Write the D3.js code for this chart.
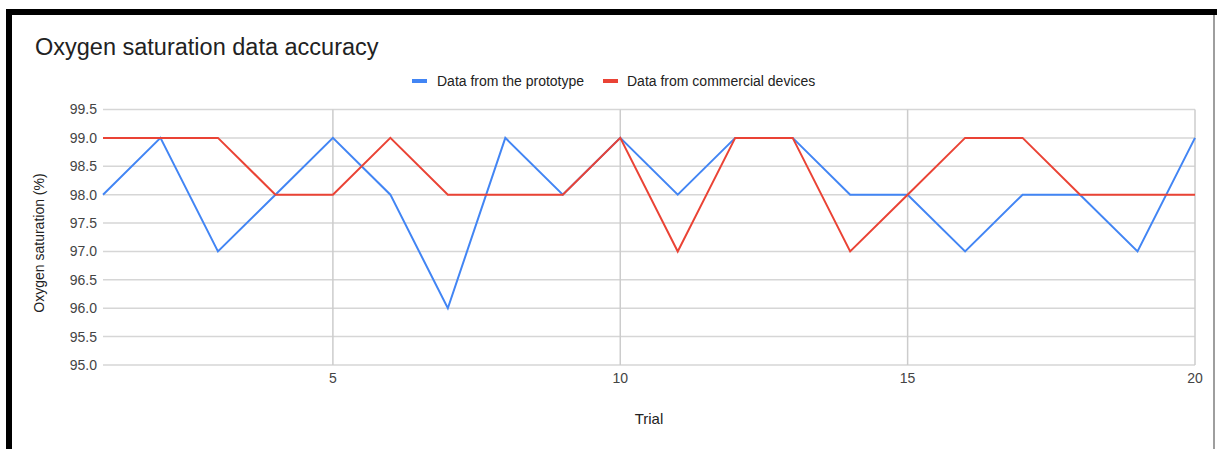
<!DOCTYPE html>
<html><head><meta charset="utf-8">
<script src="https://cdn.jsdelivr.net/npm/d3@7"></script>
<style>body{margin:0;background:#fff;}svg{display:block;font-family:"Liberation Sans",Arial,sans-serif;}</style>
</head><body>
<svg id="c" width="1217" height="449"></svg>
<script>
const trials = d3.range(1, 21);
const prototype = [98,99,97,98,99,98,96,99,98,99,98,99,99,98,98,97,98,98,97,99];
const commercial = [99,99,99,98,98,99,98,98,98,99,97,99,99,97,98,99,99,98,98,98];
const yTicks = [95.0,95.5,96.0,96.5,97.0,97.5,98.0,98.5,99.0,99.5];
const xTicks = [5,10,15,20];
const seriesNames = ["Data from the prototype","Data from commercial devices"];
const colors = ["#4285F4","#EA4335"];

const svg = d3.select("#c");
// frame
svg.append("rect").attr("x",6).attr("y",9).attr("width",1211).attr("height",6).attr("fill","#000");
svg.append("rect").attr("x",6).attr("y",9).attr("width",6).attr("height",440).attr("fill","#000");
svg.append("rect").attr("x",1213).attr("y",15).attr("width",2).attr("height",434).attr("fill","#9e9e9e");

const L=103,R=1195,T=109.5,B=365;
const x = d3.scaleLinear().domain([1,20]).range([L,R]);
const y = d3.scaleLinear().domain([95,99.5]).range([B,T]);

// horizontal gridlines
svg.append("g").selectAll("line").data(yTicks).join("line")
  .attr("x1",L).attr("x2",R).attr("y1",d=>y(d)).attr("y2",d=>y(d))
  .attr("stroke","#d6d6d6").attr("stroke-width",1.5);
// vertical gridlines
svg.append("g").selectAll("line").data(xTicks).join("line")
  .attr("x1",d=>x(d)).attr("x2",d=>x(d)).attr("y1",T).attr("y2",B)
  .attr("stroke","#cccccc").attr("stroke-width",1.5);

// y labels
svg.append("g").selectAll("text").data(yTicks).join("text")
  .attr("x",97).attr("y",d=>y(d)).attr("dy","0.35em").attr("text-anchor","end")
  .attr("font-size",14).attr("fill","#444").text(d=>d.toFixed(1));
// x labels
svg.append("g").selectAll("text").data(xTicks).join("text")
  .attr("x",d=>x(d)).attr("y",378).attr("dy","0.35em").attr("text-anchor","middle")
  .attr("font-size",14).attr("fill","#444").text(d=>d);

// lines
const line = d3.line().x((d,i)=>x(trials[i])).y(d=>y(d));
[prototype, commercial].forEach((s,i)=>{
  svg.append("path").datum(s).attr("d",line).attr("fill","none")
    .attr("stroke",colors[i]).attr("stroke-width",2).attr("stroke-linejoin","miter");
});
// title
svg.append("text").attr("x",35).attr("y",55).attr("font-size",23.5).attr("fill","#222").text("Oxygen saturation data accuracy");
// legend
const lg = [{x:412,tx:437},{x:603,tx:627}];
lg.forEach((p,i)=>{
  svg.append("rect").attr("x",p.x).attr("y",79).attr("width",15).attr("height",4).attr("fill",colors[i]);
  svg.append("text").attr("x",p.tx).attr("y",81).attr("dy","0.35em").attr("font-size",14).attr("fill","#222").text(seriesNames[i]);
});
// axis titles
svg.append("text").attr("transform","translate(44,243) rotate(-90)").attr("text-anchor","middle")
  .attr("font-size",14).attr("fill","#222").text("Oxygen saturation (%)");
svg.append("text").attr("x",649).attr("y",419).attr("dy","0.35em").attr("text-anchor","middle")
  .attr("font-size",15).attr("fill","#222").text("Trial");
</script>
</body></html>
